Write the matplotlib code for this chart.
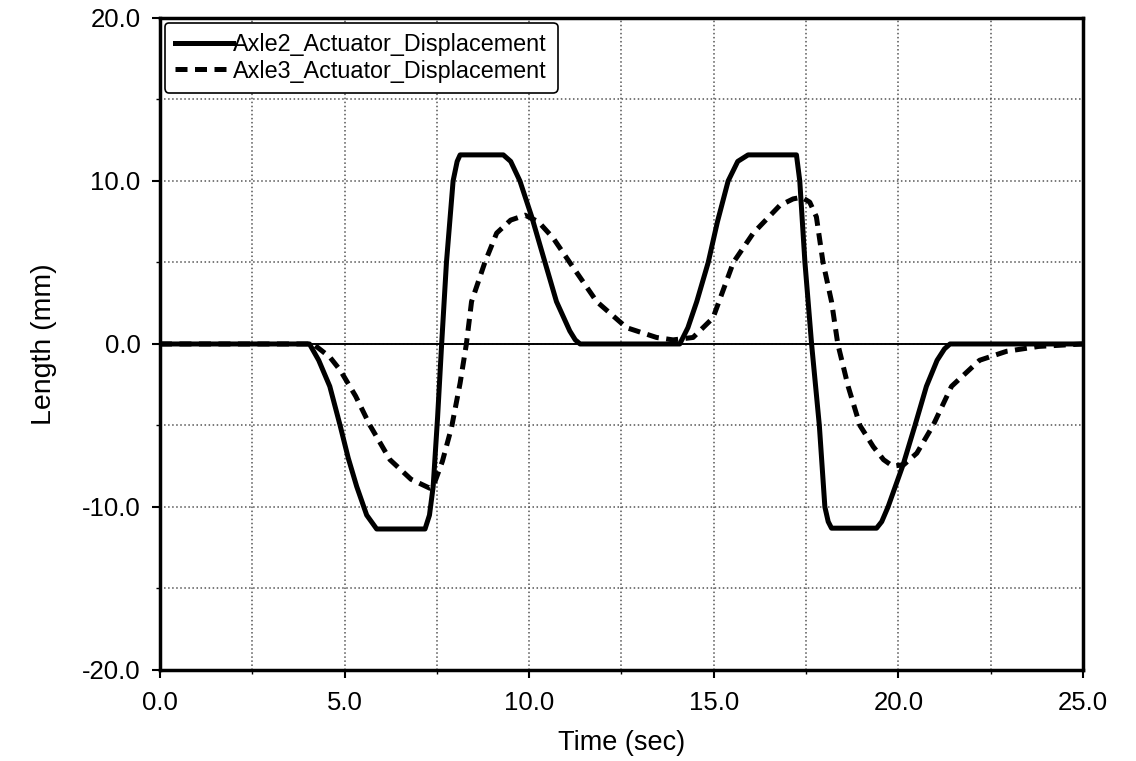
import matplotlib
matplotlib.use("Agg")
import matplotlib.pyplot as plt
from matplotlib.ticker import MultipleLocator, FormatStrFormatter

plt.rcParams['font.family'] = ['Liberation Sans', 'DejaVu Sans']

# Axle2 actuator displacement (solid)
t_a2 = [0, 4.05, 4.3, 4.6, 4.88, 5.1, 5.33, 5.6, 5.87, 7.18, 7.3, 7.4, 7.52, 7.63,
        7.76, 7.94, 8.05, 8.13, 9.3, 9.5, 9.75, 10.07, 10.43, 10.74, 11.1, 11.25,
        11.38, 14.08, 14.3, 14.54, 14.85, 15.1, 15.39, 15.65, 15.93, 17.24, 17.33,
        17.47, 17.65, 17.86, 18.01, 18.1, 18.19, 19.41, 19.55, 19.72, 20.13, 20.45,
        20.76, 21.05, 21.25, 21.4, 25]
y_a2 = [0, 0, -1.0, -2.6, -5.0, -7.0, -8.75, -10.5, -11.35, -11.35, -10.5, -8.75,
        -4.5, 0, 5.0, 10.0, 11.2, 11.6, 11.6, 11.2, 10.0, 7.8, 5.0, 2.6, 0.8, 0.25,
        0, 0, 1.0, 2.6, 5.0, 7.5, 10.0, 11.2, 11.6, 11.6, 10.0, 5.0, 0, -5.0, -10.0,
        -10.9, -11.3, -11.3, -10.9, -10.0, -7.4, -5.0, -2.6, -1.0, -0.3, 0, 0]

# Axle3 actuator displacement (dashed)
t_a3 = [0, 4.15, 4.6, 4.88, 5.3, 5.69, 6.23, 6.8, 7.31, 7.4, 7.65, 7.9, 8.13, 8.3,
        8.44, 8.8, 9.12, 9.5, 9.89, 10.25, 10.65, 11.1, 11.83, 12.64, 13.45, 13.9,
        14.44, 14.98, 15.53, 16.07, 16.79, 17.15, 17.38, 17.6, 17.78, 17.96, 18.19,
        18.36, 18.64, 18.96, 19.32, 19.6, 19.85, 20.15, 20.5, 20.94, 21.44, 22.2,
        22.93, 23.8, 25]
y_a3 = [0, 0, -0.8, -1.6, -3.2, -5.0, -7.1, -8.3, -8.85, -8.75, -7.2, -5.1, -2.4, 0,
        2.6, 5.0, 6.8, 7.6, 7.9, 7.5, 6.5, 5.0, 2.6, 1.0, 0.4, 0.25, 0.4, 1.6, 5.0,
        6.8, 8.5, 8.9, 9.0, 8.7, 7.8, 5.0, 2.6, 0, -2.6, -5.0, -6.3, -7.1, -7.5,
        -7.4, -6.7, -5.0, -2.6, -1.0, -0.45, -0.15, 0]

fig = plt.figure(figsize=(11.36, 7.61), dpi=100)
ax = fig.add_axes([0.1408, 0.1196, 0.8125, 0.8568])

ax.axhline(0, color="black", lw=1.4, zorder=2)
ax.plot(t_a2, y_a2, color="black", lw=3.6, label="Axle2_Actuator_Displacement",
        solid_joinstyle="round", zorder=3)
ax.plot(t_a3, y_a3, color="black", lw=3.6, linestyle=(0, (2.4, 1.5)),
        label="Axle3_Actuator_Displacement", zorder=3)

ax.set_xlim(0, 25)
ax.set_ylim(-20, 20)
ax.xaxis.set_major_locator(MultipleLocator(5))
ax.xaxis.set_minor_locator(MultipleLocator(2.5))
ax.yaxis.set_major_locator(MultipleLocator(10))
ax.yaxis.set_minor_locator(MultipleLocator(5))
ax.xaxis.set_major_formatter(FormatStrFormatter('%.1f'))
ax.yaxis.set_major_formatter(FormatStrFormatter('%.1f'))
ax.grid(True, which="both", linestyle=":", color="#555555", lw=1.1)

for s in ax.spines.values():
    s.set_linewidth(2.5)
ax.tick_params(which="major", direction="out", length=6, width=1.5,
               labelsize=18.5)
ax.tick_params(axis="x", which="major", pad=9)
ax.tick_params(axis="y", which="major", pad=8)
ax.tick_params(which="minor", direction="out", length=3, width=1)

ax.set_xlabel("Time (sec)", fontsize=19.5, labelpad=11)
ax.set_ylabel("Length (mm)", fontsize=20.5, labelpad=18)

leg = ax.legend(loc="upper left", fontsize=16.8, handlelength=2.5, handletextpad=0.0,
                borderaxespad=0.2, labelspacing=0.15, fancybox=True,
                edgecolor="black", framealpha=1, borderpad=0.45)
leg.get_frame().set_linewidth(1.2)

fig.savefig("out.png", dpi=100)
